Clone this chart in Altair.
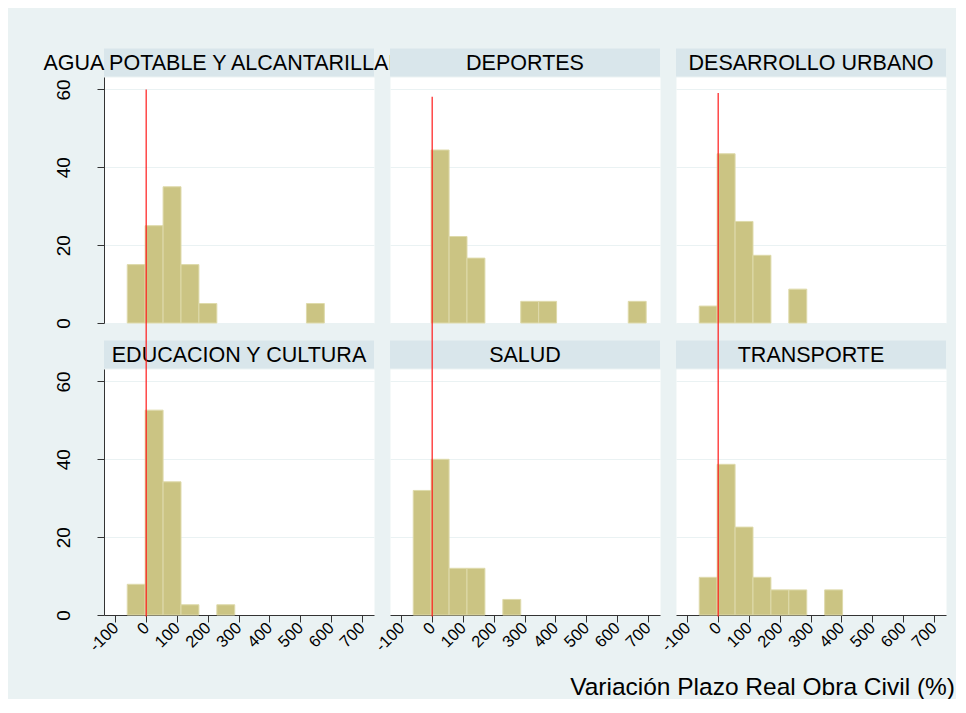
import altair as alt
import pandas as pd

# ---------------- data ----------------
categories = [
    "AGUA POTABLE Y ALCANTARILLADO",
    "DEPORTES",
    "DESARROLLO URBANO",
    "EDUCACION Y CULTURA",
    "SALUD",
    "TRANSPORTE",
]
# common histogram bin edges (Variación Plazo Real Obra Civil, %)
bin_edges = [-61.5, -3.3, 54.9, 113.1, 171.3, 229.5, 287.7, 345.9,
             404.1, 462.3, 520.5, 578.7, 636.9, 695.1]
# percent of projects per bin
pct_agua = [15, 25, 35, 15, 5, 0, 0, 0, 0, 0, 5, 0, 0]
pct_deportes = [0, 44.44, 22.22, 16.67, 0, 0, 5.56, 5.56, 0, 0, 0, 0, 5.56]
pct_desarrollo = [4.35, 43.48, 26.09, 17.39, 0, 8.70, 0, 0, 0, 0, 0, 0, 0]
pct_educacion = [7.89, 52.63, 34.21, 2.63, 0, 2.63, 0, 0, 0, 0, 0, 0, 0]
pct_salud = [32, 40, 12, 12, 0, 4, 0, 0, 0, 0, 0, 0, 0]
pct_transporte = [9.68, 38.71, 22.58, 9.68, 6.45, 6.45, 0, 6.45, 0, 0, 0, 0, 0]
pcts = [pct_agua, pct_deportes, pct_desarrollo, pct_educacion, pct_salud, pct_transporte]

ref_line_x = 0
rule_top = [60, 58.1, 59.1]          # top of the red reference line in the upper panels
x_ticks = [-100, 0, 100, 200, 300, 400, 500, 600, 700]
y_ticks = [0, 20, 40, 60]
x_title = "Variación Plazo Real Obra Civil (%)"

# ---------------- style ----------------
FONT = "Liberation Sans"
BG = "#EAF2F3"
STRIP = "#D9E6EB"
BAR = "#CBC483"
BAR_EDGE = "#DEDAAB"
AXC = "#333333"
W, H = 270, 246

xscale = alt.Scale(domain=[-137, 740], nice=False, zero=False)
yscale = alt.Scale(domain=[0, 63.2], nice=False, zero=False)


def panel(i):
    row, col = divmod(i, 3)
    show_y = col == 0
    show_x = row == 1

    df = pd.DataFrame({"x0": bin_edges[:-1], "x1": bin_edges[1:], "pct": pcts[i]})
    df = df[df["pct"] > 0]

    if show_y:
        yaxis = alt.Axis(values=y_ticks, grid=True, gridColor=BG, gridWidth=1,
                         labelAngle=270, labelAlign="center", labelBaseline="bottom",
                         labelPadding=24, labelFontSize=19, labelFont=FONT,
                         labelColor="black", tickSize=7, tickColor=AXC,
                         domainColor=AXC, title=None)
    else:
        yaxis = alt.Axis(values=y_ticks, grid=True, gridColor=BG, gridWidth=1,
                         labels=False, ticks=False, domain=False, title=None)
    if show_x:
        xaxis = alt.Axis(values=x_ticks, grid=False, labelAngle=315,
                         labelAlign="right", labelBaseline="middle",
                         labelExpr="'' + datum.value",
                         labelPadding=3, labelFontSize=16.5, labelFont=FONT,
                         labelColor="black", labelFlush=False, labelOverlap=False,
                         tickSize=7, tickColor=AXC, domainColor=AXC, title=None)
    else:
        xaxis = None

    label_df = pd.DataFrame({"t": [categories[i]]})

    strip = alt.Chart(label_df).mark_rect(fill=STRIP, clip=False).encode(
        x=alt.value(0), x2=alt.value(W), y=alt.value(-28.4), y2=alt.value(-0.6))
    title = alt.Chart(label_df).mark_text(
        font=FONT, fontSize=21.5, align="center", baseline="alphabetic",
        color="black", clip=False, dx=-7 if i == 0 else 0).encode(
        x=alt.value(W / 2), y=alt.value(-6.7), text="t:N")

    bars = alt.Chart(df).mark_rect(fill=BAR, stroke=BAR_EDGE, strokeWidth=1).encode(
        x=alt.X("x0:Q", scale=xscale, axis=xaxis),
        x2="x1:Q",
        y=alt.Y("pct:Q", scale=yscale, axis=yaxis),
        y2=alt.datum(0),
    )

    if row == 0:
        rdf = pd.DataFrame({"x": [ref_line_x], "top": [rule_top[col]]})
        rule = alt.Chart(rdf).mark_rule(color="#FF1A1A", strokeWidth=1.2, clip=False).encode(
            x=alt.X("x:Q", scale=xscale, axis=xaxis),
            y=alt.Y("top:Q", scale=yscale, axis=yaxis),
            y2=alt.value(H),
        )
    else:
        rdf = pd.DataFrame({"x": [ref_line_x]})
        rule = alt.Chart(rdf).mark_rule(color="#FF1A1A", strokeWidth=1.2, clip=False).encode(
            x=alt.X("x:Q", scale=xscale, axis=xaxis),
            y=alt.value(-46), y2=alt.value(H + 1.5),
        )

    layers = [strip, title, bars, rule]

    if i == 0:
        layers.append(alt.Chart(label_df).mark_rect(fill=BG, clip=False).encode(
            x=alt.value(-96), x2=alt.value(-95), y=alt.value(-68.7), y2=alt.value(-67.7)))
    if i == 5:
        tdf = pd.DataFrame({"t": [x_title]})
        layers.append(alt.Chart(tdf).mark_text(
            font=FONT, fontSize=24.5, align="right", baseline="alphabetic",
            color="black", clip=False).encode(
            x=alt.value(279), y=alt.value(325.5), text="t:N"))
        layers.append(alt.Chart(tdf).mark_rect(fill=BG, clip=False).encode(
            x=alt.value(279), x2=alt.value(280), y=alt.value(326), y2=alt.value(327)))

    return alt.layer(*layers).properties(width=W, height=H)


chart = alt.concat(
    *[panel(i) for i in range(6)],
    columns=3,
    spacing={"row": 46, "column": 16},
    bounds="flush",
).configure(
    background=BG,
    padding={"left": 0, "top": 0, "right": 0, "bottom": 0},
).configure_view(
    fill="white", strokeOpacity=0,
)

chart.save("out.html", embed_options={"renderer": "svg", "actions": False})
